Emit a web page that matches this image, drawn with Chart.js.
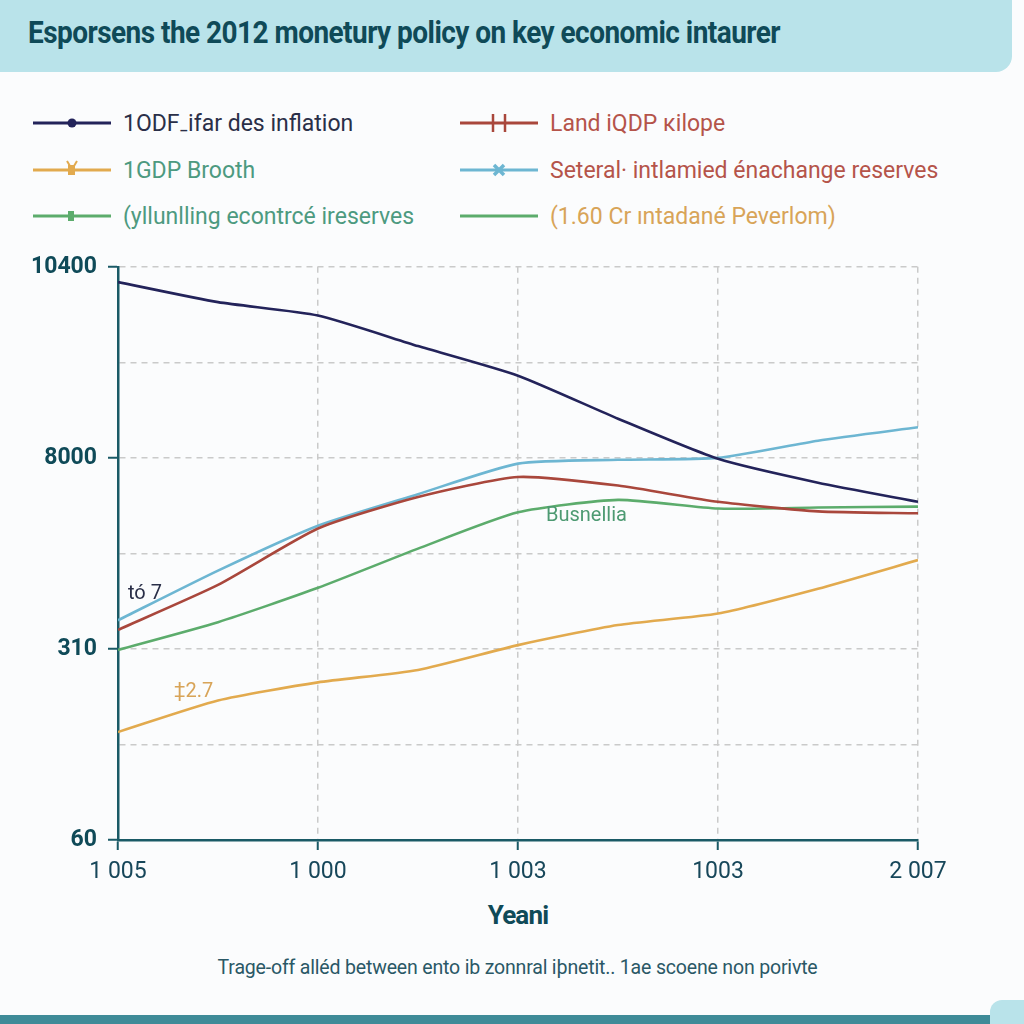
<!DOCTYPE html>
<html>
<head>
<meta charset="utf-8">
<script src="https://cdn.jsdelivr.net/npm/chart.js@4/dist/chart.umd.min.js"></script>
<style>
	html, body { margin: 0; padding: 0; }
	body { width: 1024px; height: 1024px; position: relative; overflow: hidden; background: #fbfcfd; font-family: Roboto, "Liberation Sans", sans-serif; }
	.title-band { position: absolute; left: 0; top: 0; width: 1012px; height: 72px; background: #b9e3ea; border-bottom-right-radius: 16px; }
	.title { position: absolute; left: 28px; top: 14px; font-family: Roboto, "Liberation Sans", sans-serif; font-weight: bold; font-size: 31px; color: #0f4a58; white-space: nowrap; letter-spacing: -0.6px; transform-origin: 0 0; }
	.legend-item { position: absolute; height: 30px; display: flex; align-items: center; font-size: 23px; white-space: nowrap; }
	.legend-item canvas { margin-right: 12px; }
	#chartBox { position: absolute; left: 0; top: 242px; width: 960px; height: 648px; }
	.x-title { position: absolute; left: 0; width: 1036px; top: 900px; text-align: center; font-family: Roboto, "Liberation Sans", sans-serif; font-weight: bold; font-size: 26px; color: #0f4a58; letter-spacing: -0.8px; }
	.footer { position: absolute; left: 0; width: 1036px; top: 955px; text-align: center; font-family: Roboto, "Liberation Sans", sans-serif; font-size: 21px; color: #2a5866; }
	.footer span { display: inline-block; transform: scaleX(0.93); letter-spacing: -0.2px; }
	.bottom-bar { position: absolute; left: 0; top: 1015px; width: 990px; height: 9px; background: #3f8b98; }
	.bottom-corner { position: absolute; left: 990px; top: 1000px; width: 34px; height: 24px; background: #b9e3ea; border-top-left-radius: 12px; }
</style>
</head>
<body>
<div class="title-band"></div>
<div class="title" id="title">Esporsens the 2012 monetury policy on key economic intaurer</div>
<div id="legend"></div>
<div id="chartBox"><canvas id="lineChart" width="960" height="648"></canvas></div>
<div class="x-title">Yeani</div>
<div class="footer"><span>Trage-off alléd between ento ib zonnral iþnetit.. 1ae scoene non porivte</span></div>
<div class="bottom-corner"></div>
<div class="bottom-bar"></div>

<script>
// x positions (in tick steps) of the sampled points
var xPoints = [0, 0.5, 1, 1.5, 2, 2.5, 3, 3.5, 4];
var xTickLabels = ['1 005', '1 000', '1 003', '1003', '2 007'];
var yTickLabels = { 0: '60', 2: '310', 4: '8000', 6: '10400' };

var inflation = [5.84, 5.63, 5.49, 5.17, 4.86, 4.41, 3.99, 3.74, 3.54];
var landGdp   = [2.20, 2.67, 3.26, 3.59, 3.80, 3.71, 3.54, 3.44, 3.42];
var gdpGrowth = [1.13, 1.46, 1.65, 1.78, 2.04, 2.25, 2.37, 2.63, 2.93];
var exchange  = [2.30, 2.82, 3.29, 3.62, 3.94, 3.98, 4.00, 4.18, 4.32];
var reserves  = [1.99, 2.28, 2.64, 3.05, 3.43, 3.56, 3.47, 3.48, 3.49];

var legendItems = [
	{ label: '1ODF\u208Bifar des inflation', color: '#23235a', text: '#2a2f48', marker: 'dot', x: 33, y: 108 },
	{ label: '1GDP Brooth', color: '#e2aa4e', text: '#4d9a80', marker: 'bulb', x: 33, y: 155 },
	{ label: '(yllunlling econtrcé ireserves', color: '#5cac6c', text: '#4d9a80', marker: 'tick', x: 33, y: 201 },
	{ label: 'Land iQDP \u0138ilope', color: '#a9473c', text: '#b5544a', marker: 'double', x: 460, y: 108 },
	{ label: 'Seteral\u00B7 intlamied énachange reserves', color: '#6db6d2', text: '#b5544a', marker: 'cross', x: 460, y: 155 },
	{ label: '(1.60 Cr ıntadané Peverlom)', color: '#5cac6c', text: '#d8a458', marker: 'none', x: 460, y: 201 }
];

function toPoints(values) {
	return values.map(function(v, i) { return { x: xPoints[i], y: v }; });
}

var handleTitle = function() {
	var t = document.getElementById('title');
	var w = t.getBoundingClientRect().width;
	t.style.transform = 'scaleX(' + (752 / w) + ')';
};

var handleLegend = function() {
	var box = document.getElementById('legend');
	legendItems.forEach(function(item) {
		var div = document.createElement('div');
		div.className = 'legend-item';
		div.style.left = item.x + 'px';
		div.style.top = item.y + 'px';
		div.style.color = item.text;
		var c = document.createElement('canvas');
		c.width = 78; c.height = 30;
		var g = c.getContext('2d');
		g.strokeStyle = item.color;
		g.fillStyle = item.color;
		g.lineWidth = 3;
		g.beginPath(); g.moveTo(0, 15); g.lineTo(78, 15); g.stroke();
		if (item.marker === 'dot') {
			g.beginPath(); g.arc(39, 15, 4.5, 0, Math.PI * 2); g.fill();
		} else if (item.marker === 'bulb') {
			g.fillRect(35, 10, 7, 10);
			g.lineWidth = 2;
			g.beginPath(); g.moveTo(34, 6); g.lineTo(37, 11); g.moveTo(44, 6); g.lineTo(41, 11); g.stroke();
		} else if (item.marker === 'tick') {
			g.fillRect(35, 10, 6, 10);
		} else if (item.marker === 'double') {
			g.lineWidth = 2.5;
			g.beginPath(); g.moveTo(33, 6); g.lineTo(33, 24); g.moveTo(45, 6); g.lineTo(45, 24); g.stroke();
		} else if (item.marker === 'cross') {
			g.lineWidth = 3.5;
			g.beginPath(); g.moveTo(34, 10); g.lineTo(44, 20); g.moveTo(44, 10); g.lineTo(34, 20); g.stroke();
		}
		div.appendChild(c);
		var span = document.createElement('span');
		span.textContent = item.label;
		div.appendChild(span);
		box.appendChild(div);
	});
};

var annotations = [
	{ text: 'tó 7', x: 0.05, y: 2.58, color: '#2a2f48' },
	{ text: '\u20212.7', x: 0.28, y: 1.55, color: '#d8a458' },
	{ text: 'Busnellia', x: 2.14, y: 3.39, color: '#4d9a72' }
];

var annotationPlugin = {
	id: 'notes',
	afterDatasetsDraw: function(chart) {
		var ctx = chart.ctx;
		var xs = chart.scales.x, ys = chart.scales.y;
		ctx.save();
		ctx.font = '20px Roboto, "Liberation Sans", sans-serif';
		ctx.textBaseline = 'middle';
		annotations.forEach(function(a) {
			ctx.fillStyle = a.color;
			ctx.fillText(a.text, xs.getPixelForValue(a.x), ys.getPixelForValue(a.y));
		});
		ctx.restore();
	}
};

var lineChart;
var handleRenderChart = function() {
	Chart.defaults.font.family = 'Roboto, "Liberation Sans", sans-serif';

	var common = { borderWidth: 2.6, pointRadius: 0, tension: 0.2, fill: false };
	var ctx = document.getElementById('lineChart');
	lineChart = new Chart(ctx, {
		type: 'line',
		data: {
			datasets: [
				Object.assign({ label: 'inflation', data: toPoints(inflation), borderColor: '#23235a' }, common),
				Object.assign({ label: 'land', data: toPoints(landGdp), borderColor: '#a9473c' }, common),
				Object.assign({ label: 'gdp', data: toPoints(gdpGrowth), borderColor: '#e2aa4e' }, common),
				Object.assign({ label: 'exchange', data: toPoints(exchange), borderColor: '#6db6d2' }, common),
				Object.assign({ label: 'reserves', data: toPoints(reserves), borderColor: '#5cac6c' }, common)
			]
		},
		options: {
			responsive: false,
			maintainAspectRatio: false,
			animation: false,
			layout: { padding: { top: 8, right: 42, left: 0, bottom: 0 } },
			plugins: { legend: { display: false }, tooltip: { enabled: false } },
			scales: {
				x: {
					type: 'linear', min: 0, max: 4,
					afterFit: function(s) { s.height = 50; },
					border: { color: '#1a5a66', width: 2.5, dash: [6, 5] },
					grid: { color: '#cacaca', lineWidth: 1.5, tickLength: 10, tickColor: '#1a5a66', tickWidth: 2, tickBorderDash: [] },
					ticks: {
						stepSize: 1, padding: 8, color: '#17475a',
						font: { size: 23 },
						callback: function(v) { return xTickLabels[v]; }
					}
				},
				y: {
					type: 'linear', min: 0, max: 6,
					afterFit: function(s) { s.width = 118; },
					border: { color: '#1a5a66', width: 2.5, dash: [6, 5] },
					grid: {
						color: '#cacaca', lineWidth: 1.5, tickLength: 10, tickWidth: 2, tickBorderDash: [],
						tickColor: function(c) { return yTickLabels[c.tick.value] ? '#1a5a66' : 'rgba(0,0,0,0)'; }
					},
					ticks: {
						stepSize: 1, padding: 11, color: '#0f4a58',
						font: { size: 23, weight: 'bold' },
						callback: function(v) { return yTickLabels[v] || ''; }
					}
				}
			}
		},
		plugins: [annotationPlugin]
	});
};

handleTitle();
handleLegend();
handleRenderChart();
</script>
</body>
</html>
